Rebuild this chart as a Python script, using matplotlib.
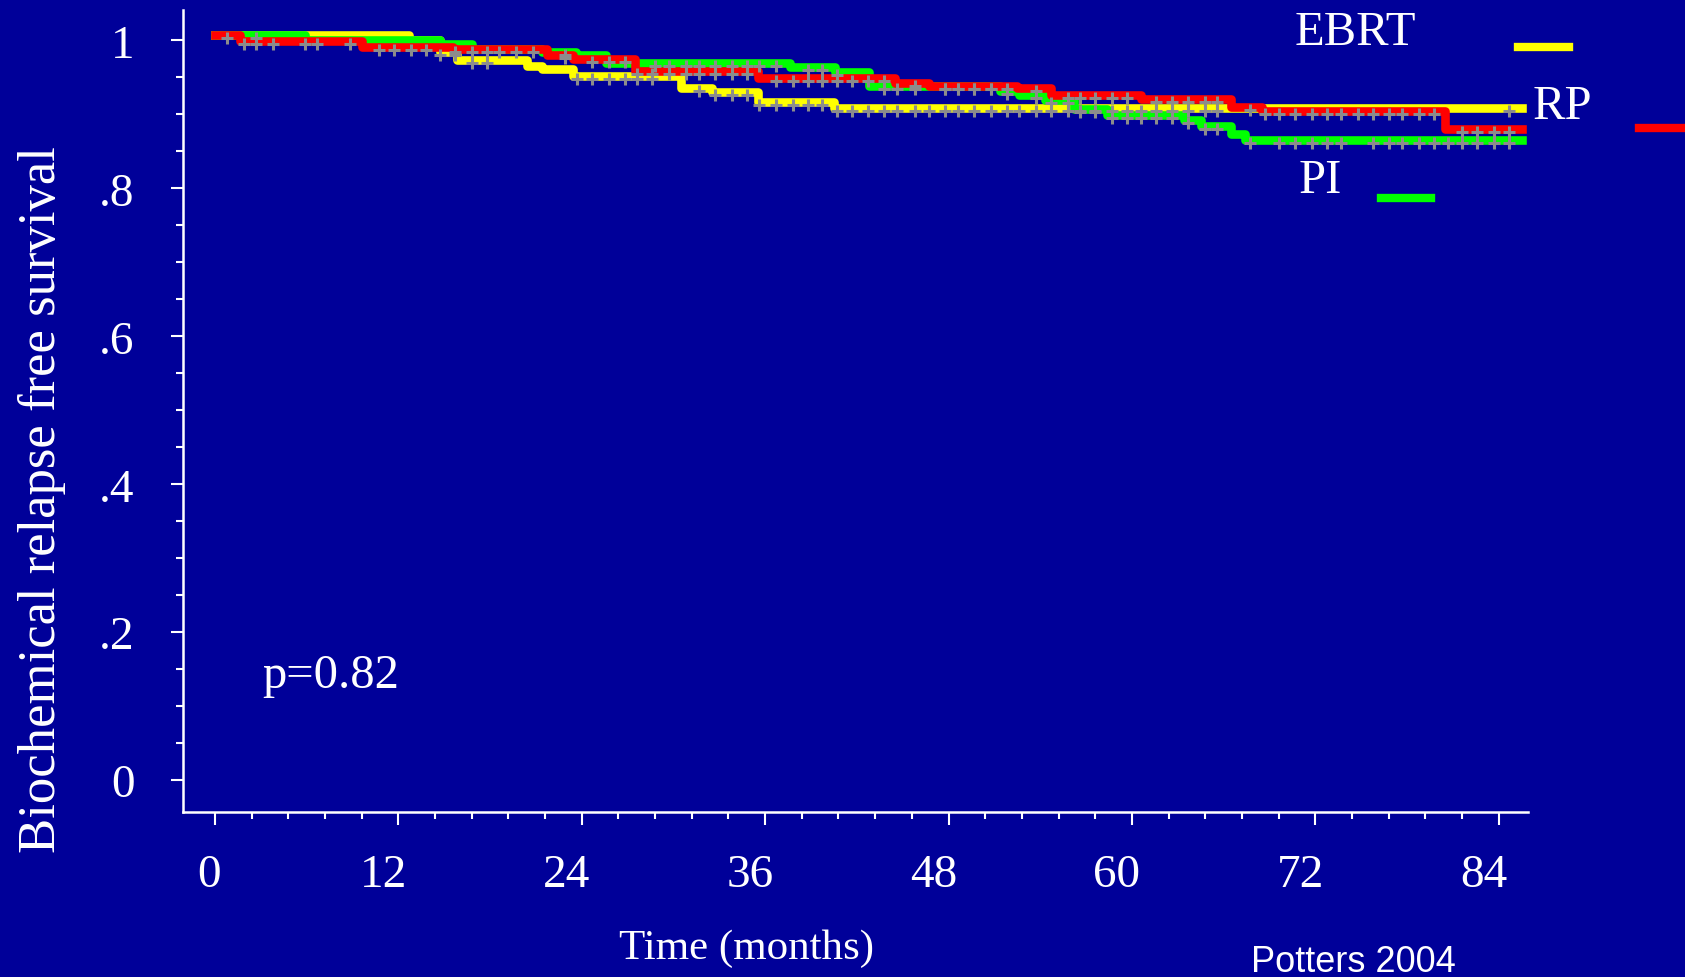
import numpy as np
import matplotlib
matplotlib.use("Agg")
import matplotlib.pyplot as plt
import matplotlib.ticker as plticker
from matplotlib.transforms import offset_copy, ScaledTranslation
from matplotlib.lines import Line2D

# Kaplan-Meier step curves (months, survival)
ebrt_t = [0, 12.7, 14.7, 15.8, 20.4, 21.4, 23.4, 30.5, 32.5, 35.5, 40.5]
ebrt_s = [1.0, 0.994, 0.978, 0.967, 0.958, 0.954, 0.945, 0.929, 0.923, 0.910, 0.902]

rp_t = [0, 1.6, 9.6, 15.6, 21.7, 23.4, 27.5, 35.5, 44.5, 46.7, 52.5, 54.7, 60.6, 66.5, 68.5, 80.5]
rp_s = [1.0, 0.992, 0.984, 0.981, 0.973, 0.968, 0.952, 0.942, 0.936, 0.932, 0.929, 0.920, 0.914,
        0.903, 0.898, 0.873]

pi_t = [0, 5.9, 14.7, 16.8, 21.4, 23.6, 25.6, 37.6, 40.6, 42.8, 51.4, 52.6, 54.3, 56.2, 58.4,
        63.4, 64.5, 66.5, 67.4]
pi_s = [1.0, 0.994, 0.988, 0.982, 0.978, 0.974, 0.962, 0.957, 0.951, 0.931, 0.925, 0.920, 0.912,
        0.901, 0.893, 0.885, 0.877, 0.867, 0.859]

end_time = 85.5

# censoring times (gray crosses)
rp_cens = [0.8, 1.9, 2.7, 3.8, 5.9, 6.7, 8.8, 10.7, 11.7, 12.8, 13.8, 15.7, 16.8, 17.8, 18.6,
           19.7, 20.8, 22.9, 24.7, 25.8, 26.8, 27.6, 28.6, 29.7, 30.8, 31.7, 32.7, 33.8, 34.8,
           36.7, 37.8, 38.8, 39.7, 40.7, 41.7, 42.7, 43.8, 45.8, 47.8, 48.6, 49.7, 50.8, 51.8,
           53.7, 55.8, 56.6, 57.6, 58.7, 59.7, 61.6, 62.6, 63.7, 64.8, 65.6, 67.7, 68.7, 69.6,
           70.7, 71.8, 72.8, 73.7, 74.8, 75.8, 76.8, 77.7, 78.8, 79.8, 81.6, 82.6, 83.7, 84.7]
ebrt_cens = [14.7, 15.7, 16.8, 17.8, 23.7, 24.7, 25.8, 26.8, 27.6, 28.6, 31.7, 32.7, 33.8, 34.8,
             35.6, 36.7, 37.8, 38.8, 39.7, 40.7, 41.7, 42.7, 43.8, 44.6, 45.8, 46.7, 47.8, 48.6,
             49.7, 50.8, 51.8, 52.6, 53.7, 54.7, 55.8, 56.6, 57.6, 58.7, 59.7, 60.6, 61.6, 62.6,
             63.7, 64.8, 65.6, 84.7]
pi_cens = [2.7, 22.9, 28.8, 29.7, 30.8, 31.7, 32.7, 33.8, 34.8, 35.6, 36.7, 38.8, 39.7, 40.7,
           43.8, 44.6, 45.8, 47.8, 48.6, 49.7, 50.8, 51.8, 53.7, 54.7, 55.8, 56.6, 57.6, 58.7,
           59.7, 60.6, 61.6, 62.6, 63.7, 64.8, 65.6, 67.7, 69.6, 70.7, 71.8, 72.8, 73.7, 75.8,
           76.8, 77.7, 78.8, 79.8, 80.7, 81.6, 82.6, 83.7, 84.7]

x_ticks = [0, 12, 24, 36, 48, 60, 72, 84]
y_ticks = [0, 0.2, 0.4, 0.6, 0.8, 1.0]
y_ticklabels = ["0", ".2", ".4", ".6", ".8", "1"]

bg = "#000099"
serif = ["Liberation Serif", "DejaVu Serif"]

fig = plt.figure(figsize=(16.85, 9.78), dpi=100, facecolor=bg)
ax = fig.add_axes([0.1086, 0.1687, 0.798, 0.820], facecolor=bg)

line_tr = offset_copy(ax.transData, fig=fig, x=0, y=5, units="dots")
mark_tr = offset_copy(ax.transData, fig=fig, x=0, y=2, units="dots")


def step_value(t, s, c):
    return s[np.searchsorted(t, c, side="right") - 1]


groups = [(ebrt_t, ebrt_s, ebrt_cens, "#FFFF00"),
          (pi_t, pi_s, pi_cens, "#00FF00"),
          (rp_t, rp_s, rp_cens, "#FF0000")]

for t, s, cens, col in groups:
    ax.step(t + [end_time], s + [s[-1]], where="post", color=col, lw=6.2,
            solid_joinstyle="round", transform=line_tr, zorder=2)

for t, s, cens, col in groups:
    yc = [step_value(np.array(t), np.array(s), c) for c in cens]
    ax.plot(cens, yc, ls="none", marker="+", ms=9, mew=2.2, color="#8c8c8c",
            transform=mark_tr, zorder=3)

ax.set_xlim(-2.1, 85.9)
ax.set_ylim(-0.043, 1.041)

for side in ["top", "right"]:
    ax.spines[side].set_visible(False)
for side in ["left", "bottom"]:
    ax.spines[side].set_color("white")
    ax.spines[side].set_linewidth(1.8)

ax.set_xticks(x_ticks)
ax.set_xticklabels([str(v) for v in x_ticks], family=serif)
ax.set_yticks(y_ticks)
ax.set_yticklabels(y_ticklabels, family=serif)
ax.xaxis.set_minor_locator(plticker.MultipleLocator(2.4))
ax.yaxis.set_minor_locator(plticker.MultipleLocator(0.05))
ax.tick_params(which="major", colors="white", labelsize=34, width=1.5, length=9)
ax.tick_params(which="minor", colors="white", width=1.5, length=5)
ax.tick_params(axis="x", which="major", pad=21)
ax.tick_params(axis="y", which="major", pad=26)

# the slide's x labels sit a little left of their ticks
for lab in ax.get_xticklabels():
    dx = -0.06 if len(lab.get_text()) == 1 else -0.15
    lab.set_transform(lab.get_transform() + ScaledTranslation(dx, 0, fig.dpi_scale_trans))

ax.text(3.1, 0.126, "p=0.82", color="white", fontsize=35, family=serif, va="baseline")

fig.text(0.025, 0.4888, "Biochemical relapse free survival", rotation=90, color="white",
         fontsize=38, family=serif, ha="center", va="center")
fig.text(0.4433, 0.0300, "Time (months)", color="white", fontsize=31, family=serif,
         ha="center", va="center")
fig.text(0.803, 0.006, "Potters 2004", color="white", fontsize=26,
         family=["Liberation Sans", "DejaVu Sans"], ha="center", va="baseline")

# group labels with colour keys
fig.text(0.8042, 0.9665, "EBRT", color="white", fontsize=35, family=serif, ha="center", va="center")
fig.text(0.9273, 0.8903, "RP", color="white", fontsize=35, family=serif, ha="center", va="center")
fig.text(0.7834, 0.8146, "PI", color="white", fontsize=35, family=serif, ha="center", va="center")
fig.add_artist(Line2D([1518 / 1685, 1569 / 1685], [1 - 48 / 978, 1 - 48 / 978], color="#FFFF00", lw=6))
fig.add_artist(Line2D([1639 / 1685, 1.0], [1 - 129 / 978, 1 - 129 / 978], color="#FF0000", lw=6))
fig.add_artist(Line2D([1381 / 1685, 1431 / 1685], [1 - 199 / 978, 1 - 199 / 978], color="#00FF00", lw=6))

fig.savefig("out.png", dpi=100, facecolor=bg)
